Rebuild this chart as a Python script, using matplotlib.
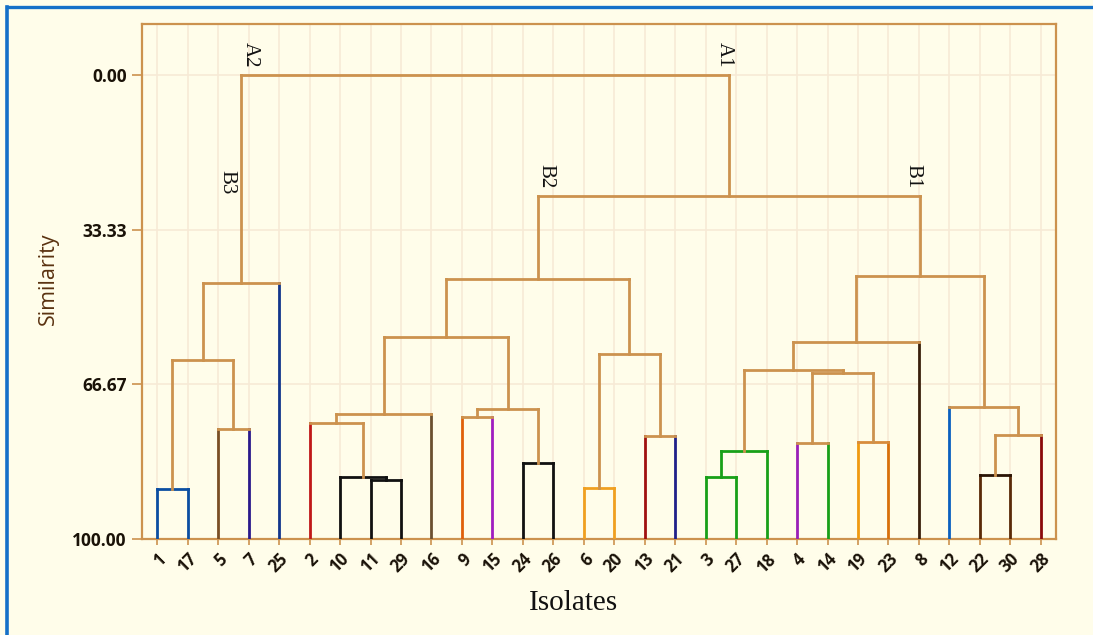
import matplotlib

matplotlib.use("Agg")
import matplotlib.pyplot as plt
from matplotlib.lines import Line2D

# leaf order along the x axis
leaves = ["1", "17", "5", "7", "25", "2", "10", "11", "29", "16",
          "9", "15", "24", "26", "6", "20", "13", "21", "3", "27",
          "18", "4", "14", "19", "23", "8", "12", "22", "30", "28"]

TAN = "#cc924e"
leaf_colors = {
    "1": "#0b4ea2", "17": "#0b4ea2", "5": "#7a4f24", "7": "#2a1a8c",
    "25": "#12368c", "2": "#c01818", "10": "#111111", "11": "#111111",
    "29": "#111111", "16": "#6b5030", "9": "#e0600a", "15": "#a01ec0",
    "24": "#111111", "26": "#111111", "6": "#f0a020", "20": "#f0a020",
    "13": "#a01010", "21": "#20208a", "3": "#18a018", "27": "#18a018",
    "18": "#18a018", "4": "#9a20b8", "14": "#18a018", "19": "#f09a10",
    "23": "#d8700a", "8": "#3a200c", "12": "#0a60c0", "22": "#5a2a08",
    "30": "#5a2a08", "28": "#8a0a0a",
}

# merges: children are leaf names or "m<k>" (k = index in these lists)
merge_left = ["1", "5", "m0", "m2", "11", "10", "2", "m6", "9", "24",
              "m8", "m7", "6", "13", "m12", "m11", "3", "m16", "4", "19",
              "m18", "m17", "m21", "22", "m23", "12", "m22", "m15", "m3"]
merge_right = ["17", "7", "m1", "25", "29", "m4", "m5", "16", "15", "26",
               "m9", "m10", "20", "21", "m13", "m14", "27", "18", "14", "23",
               "m19", "m20", "8", "30", "28", "m24", "m25", "m26", "m27"]
merge_height = [89.2, 76.2, 61.4, 44.8, 87.3, 86.7, 74.9, 73.1, 73.8, 83.6,
                72.0, 56.4, 89.1, 77.7, 60.2, 44.0, 86.7, 81.0, 79.4, 79.2,
                64.3, 63.6, 57.5, 86.2, 77.6, 71.5, 43.3, 26.1, 0.0]
merge_color = ["#0b4ea2", TAN, TAN, TAN, "#111111", "#111111", TAN, TAN, TAN,
               "#111111", TAN, TAN, "#f0a020", TAN, TAN, TAN, "#18a018",
               "#18a018", TAN, "#d88c3c", TAN, TAN, TAN, "#2a1405", TAN, TAN,
               TAN, TAN, TAN]

# cluster labels: name, merge index it marks
cluster_names = ["A2", "B3", "A1", "B2", "B1"]
cluster_nodes = [3, 3, 27, 15, 26]

y_ticks = [0.0, 33.33, 66.67, 100.0]

BG = "#fffdea"
GRID = "#f7ead6"
TICK_FONT = ["Open Sans", "DejaVu Sans"]

fig = plt.figure(figsize=(10.93, 6.35), dpi=100, facecolor=BG)
ax = fig.add_axes([142 / 1093, 1 - 539 / 635, 914 / 1093, 515 / 635])
ax.set_facecolor(BG)

xpos = {name: i + 1 for i, name in enumerate(leaves)}
ypos = {name: 100.0 for name in leaves}

for k, (l, r, h, c) in enumerate(zip(merge_left, merge_right, merge_height, merge_color)):
    for child in (l, r):
        leg_c = leaf_colors[child] if child in leaf_colors else c
        ax.plot([xpos[child], xpos[child]], [ypos[child], h], color=leg_c,
                lw=2.0, solid_capstyle="projecting", zorder=3)
    ax.plot([xpos[l], xpos[r]], [h, h], color=c, lw=2.0,
            solid_capstyle="projecting", zorder=3)
    xpos[f"m{k}"] = (xpos[l] + xpos[r]) / 2
    ypos[f"m{k}"] = h

# label offsets relative to the marked node
label_dx = [0.30, -0.48, -0.16, 0.26, -0.23]
label_y = [-4.3, 23.1, -4.3, 21.8, 21.8]
for name, node, dx, yy in zip(cluster_names, cluster_nodes, label_dx, label_y):
    ax.text(xpos[f"m{node}"] + dx, yy, name, rotation=270, ha="center",
            va="center", fontsize=15, family="Liberation Serif", color="#111111")

ax.set_xlim(0.5, len(leaves) + 0.5)
ax.set_ylim(100, -11)
ax.set_xticks(range(1, len(leaves) + 1))
ax.set_xticklabels(leaves, rotation=45, ha="right", va="top",
                   rotation_mode="anchor", fontsize=12, family=TICK_FONT,
                   fontweight="bold", color="#1a1208")
ax.set_yticks(y_ticks)
ax.set_yticklabels([f"{v:.2f}" for v in y_ticks], fontsize=12.5,
                   family=TICK_FONT, fontweight="bold", color="#1a1208")
ax.tick_params(axis="x", length=4, width=1.2, color=TAN, pad=4)
ax.tick_params(axis="y", length=7, width=1.2, color=TAN, pad=4)
ax.grid(True, color=GRID, lw=1.2, zorder=0)
ax.set_axisbelow(True)
for sp in ax.spines.values():
    sp.set_color(TAN)
    sp.set_linewidth(1.6)

fig.text(48 / 1093, 1 - 279 / 635, "Similarity", rotation=90, ha="center",
         va="center", fontsize=15.5, family="Open Sans", color="#5a3210")
fig.text(574 / 1093, 1 - 603 / 635, "Isolates", ha="center", va="center",
         fontsize=21, family="Liberation Serif", color="#111111")

# blue frame (top and left edges of the original screenshot)
fig.add_artist(Line2D([7 / 1093, 1.0], [1 - 6.5 / 635] * 2, color="#1570c8",
                      lw=2.4, transform=fig.transFigure))
fig.add_artist(Line2D([7 / 1093] * 2, [0.0, 1 - 6.5 / 635], color="#1570c8",
                      lw=2.6, transform=fig.transFigure))

fig.savefig("out.png", dpi=100, facecolor=BG)
